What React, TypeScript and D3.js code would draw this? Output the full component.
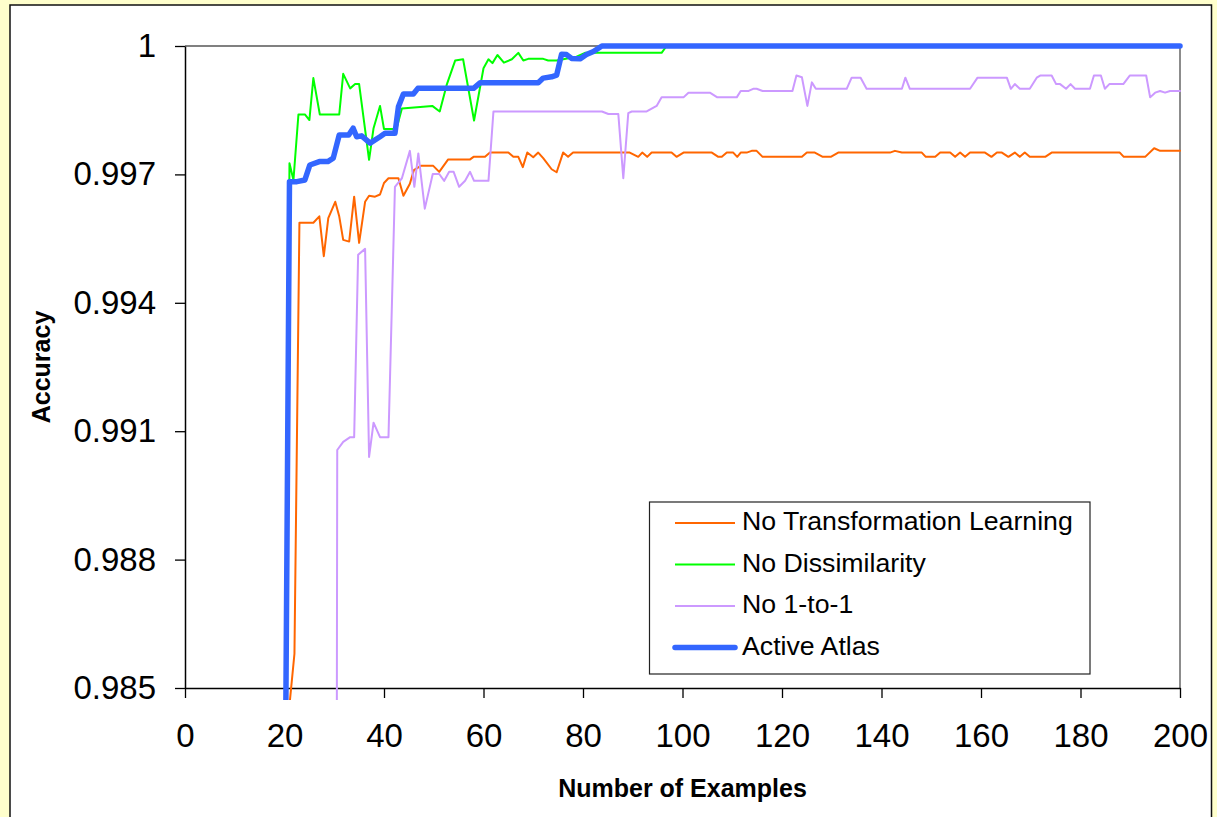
import React, { useEffect, useRef } from 'react';
import * as d3 from 'd3';

type Pt = [number, number];

// [examples, accuracy]
const noTransformation: Pt[] = [
  [20, 0.98], [21, 0.9846], [22, 0.9858], [23, 0.99587], [25.8, 0.99587], [27, 0.99602],
  [27.9, 0.99509], [28.8, 0.99598], [30.2, 0.99636], [31, 0.99602], [31.8, 0.99547],
  [33, 0.99543], [34, 0.99648], [35, 0.9954], [36.2, 0.99636], [37, 0.9965], [38.2, 0.99648],
  [39.2, 0.99653], [40, 0.9968], [40.9, 0.99691], [42.9, 0.99691], [43.9, 0.9965],
  [45.2, 0.99678], [46, 0.9971], [47.4, 0.9972], [49.9, 0.9972], [51.1, 0.99706],
  [52.9, 0.99735], [57.3, 0.99735], [58, 0.99741], [60.3, 0.99741], [61.3, 0.99751],
  [65, 0.99751], [66, 0.99741], [67, 0.99741], [67.9, 0.99717], [68.8, 0.99751], [70, 0.9974],
  [71, 0.99751], [72, 0.99738], [73.7, 0.99712], [74.7, 0.99705], [76, 0.99751], [77, 0.99741],
  [78, 0.99751], [89.4, 0.99751], [91.1, 0.99741], [91.9, 0.99751], [92.9, 0.99741],
  [93.8, 0.99751], [97.8, 0.99751], [98.8, 0.99741], [100.2, 0.99751], [105.9, 0.99751],
  [107.2, 0.99741], [107.9, 0.99741], [108.9, 0.99751], [110.2, 0.99751], [111, 0.99741],
  [111.7, 0.99751], [112.9, 0.99751], [113.9, 0.99755], [114.9, 0.99755], [116.1, 0.99741],
  [124, 0.99741], [125, 0.99751], [126.6, 0.99751], [128.2, 0.99741], [129.8, 0.99741],
  [131.3, 0.99751], [141.7, 0.99751], [142.7, 0.99755], [144.1, 0.99751], [148.1, 0.99751],
  [148.9, 0.99741], [150.8, 0.99741], [151.8, 0.99751], [153.8, 0.99751], [154.8, 0.99741],
  [155.8, 0.99751], [156.8, 0.99741], [157.8, 0.99751], [160.8, 0.99751], [162.1, 0.99741],
  [163.2, 0.99751], [164.2, 0.99751], [165.5, 0.99741], [166.8, 0.99751], [167.8, 0.99741],
  [168.8, 0.99751], [169.8, 0.99741], [172.9, 0.99741], [174.2, 0.99751], [187.9, 0.99751],
  [188.7, 0.99741], [193, 0.99741], [194.8, 0.99761], [196, 0.99755], [200, 0.99755],
];

const noDissimilarity: Pt[] = [
  [20, 0.98], [21, 0.99726], [21.8, 0.99687], [22.8, 0.9984], [24.1, 0.9984], [25, 0.99827],
  [25.8, 0.99925], [27.1, 0.9984], [31, 0.9984], [31.8, 0.99935], [33.2, 0.99901],
  [34.2, 0.99911], [35, 0.99911], [37, 0.99734], [37.9, 0.99808], [39.2, 0.9986], [40, 0.99806],
  [42.5, 0.99806], [43.6, 0.99854], [49.7, 0.9986], [51.2, 0.99847], [52.6, 0.99909],
  [54.3, 0.99966], [55.9, 0.99969], [58.1, 0.99826], [60, 0.99948], [61, 0.99969],
  [61.8, 0.9996], [62.8, 0.99979], [64.1, 0.99961], [65.7, 0.99969], [67, 0.99984],
  [68, 0.99966], [69, 0.9997], [72, 0.9997], [73, 0.99966], [74.7, 0.99966], [78.7, 0.99975],
  [80.4, 0.99984], [95.8, 0.99984], [96.8, 1], [200, 1],
];

const noOneToOne: Pt[] = [
  [30.4, 0.975], [30.6, 0.99056], [31.8, 0.99075], [33.2, 0.99086], [34, 0.99086],
  [34.8, 0.99512], [36.2, 0.99526], [37, 0.9904], [37.9, 0.9912], [39.2, 0.99086],
  [40.9, 0.99086], [42.2, 0.99671], [43.6, 0.99691], [45.2, 0.99755], [46.1, 0.99671],
  [46.9, 0.99749], [48.2, 0.9962], [49.8, 0.99701], [51.1, 0.99701], [52.1, 0.99685],
  [53.1, 0.99706], [54, 0.99706], [55.1, 0.99671], [56.3, 0.99685], [57.3, 0.99706],
  [58.1, 0.99685], [61, 0.99685], [62, 0.99847], [83.8, 0.99847], [85.1, 0.99841],
  [87.1, 0.99841], [88.1, 0.99691], [89.1, 0.99843], [89.8, 0.99847], [92.8, 0.99847],
  [94.8, 0.9986], [95.8, 0.9988], [100.2, 0.9988], [101.2, 0.99891], [105.5, 0.99891],
  [107, 0.9988], [110.9, 0.9988], [111.7, 0.99895], [113.3, 0.99895], [114.2, 0.999],
  [114.9, 0.999], [116.1, 0.99895], [122.1, 0.99895], [122.9, 0.99931], [124, 0.99927],
  [125.1, 0.9986], [126, 0.99915], [126.8, 0.999], [133, 0.999], [134, 0.99926],
  [135.8, 0.99926], [137, 0.999], [144.1, 0.999], [144.8, 0.99926], [145.7, 0.999],
  [157.8, 0.999], [159.3, 0.99926], [165.2, 0.99926], [166, 0.999], [166.8, 0.99911],
  [167.8, 0.999], [169.8, 0.999], [171.2, 0.99926], [171.9, 0.99931], [174.2, 0.99931],
  [175.1, 0.99911], [175.9, 0.99911], [177.1, 0.999], [178, 0.99911], [178.9, 0.999],
  [181.9, 0.999], [182.7, 0.99931], [184.1, 0.99931], [184.9, 0.999], [185.8, 0.99911],
  [188.6, 0.99911], [189.9, 0.99931], [193.2, 0.99931], [194, 0.9988], [195, 0.99891],
  [196, 0.99895], [197, 0.99891], [198, 0.99895], [200, 0.99895],
];

const activeAtlas: Pt[] = [
  [20, 0.98], [21, 0.99683], [22.5, 0.99683], [24.1, 0.99687], [25.1, 0.99722], [27, 0.9973],
  [28.7, 0.9973], [29.8, 0.99738], [31, 0.99792], [32.9, 0.99792], [33.8, 0.99808],
  [34.5, 0.99788], [35.5, 0.9979], [37.2, 0.99773], [39.2, 0.99788], [40.2, 0.99796],
  [42.2, 0.99796], [42.9, 0.99858], [43.9, 0.99888], [45.9, 0.99888], [46.8, 0.99901],
  [58, 0.99901], [59.3, 0.99914], [71, 0.99914], [72, 0.99925], [73.7, 0.99928],
  [74.7, 0.99932], [75.7, 0.99981], [76.7, 0.9998], [77.7, 0.99971], [79.4, 0.9997],
  [80.7, 0.9998], [82.1, 0.99987], [83.8, 1], [200, 1],
];

const seriesNames = ['No Transformation Learning', 'No Dissimilarity', 'No 1-to-1', 'Active Atlas'];
const seriesColors = ['#FF6600', '#00FF00', '#CC99FF', '#3366FF'];
const seriesWidths = [2, 2, 2, 5.5];
const yTicks = [0.985, 0.988, 0.991, 0.994, 0.997, 1];
const xTicks = [0, 20, 40, 60, 80, 100, 120, 140, 160, 180, 200];

const FONT = "Arial, 'Liberation Sans', sans-serif";

function App() {
  const svgRef = useRef<SVGSVGElement>(null);

  useEffect(() => {
    const width = 1217;
    const height = 817;
    const left = 185, top = 46, right = 1180, bottom = 688;

    const svg = d3.select(svgRef.current);
    svg.selectAll('*').remove();
    svg.attr('width', width).attr('height', height);

    // page frame
    svg.append('rect').attr('width', width).attr('height', height).attr('fill', '#FFFFCC');
    svg.append('rect')
      .attr('x', 10).attr('y', 5).attr('width', 1201.5).attr('height', 830)
      .attr('fill', '#fff').attr('stroke', '#111').attr('stroke-width', 1.5);

    const x = d3.scaleLinear().domain([0, 200]).range([left, right]);
    const y = d3.scaleLinear().domain([0.985, 1]).range([bottom, top]);

    // plot area border (grey top/right)
    svg.append('path')
      .attr('d', `M${left},${top}H${right}V${bottom}`)
      .attr('fill', 'none').attr('stroke', '#808080').attr('stroke-width', 1.8);

    const yAxis = svg.append('g')
      .attr('transform', `translate(${left},0)`)
      .call(d3.axisLeft(y).tickValues(yTicks).tickSize(10).tickSizeOuter(0).tickPadding(19)
        .tickFormat(d3.format('.3~f') as any));
    const xAxis = svg.append('g')
      .attr('transform', `translate(0,${bottom})`)
      .call(d3.axisBottom(x).tickValues(xTicks).tickSize(10).tickSizeOuter(0).tickPadding(26)
        .tickFormat(d3.format('d') as any));

    [yAxis, xAxis].forEach((g) => {
      g.select('.domain').attr('stroke', '#000').attr('stroke-width', 1.5);
      g.selectAll('.tick line').attr('stroke', '#000').attr('stroke-width', 1.3);
      g.selectAll('.tick text')
        .attr('fill', '#000').style('font-family', FONT).style('font-size', '33px');
    });

    // lines
    svg.append('clipPath').attr('id', 'plotClip')
      .append('rect').attr('x', left).attr('y', top - 10)
      .attr('width', right - left + 10).attr('height', bottom - top + 22);

    const line = d3.line<Pt>().x((d) => x(d[0])).y((d) => y(d[1]));
    const allSeries = [noTransformation, noDissimilarity, noOneToOne, activeAtlas];

    svg.append('g').attr('clip-path', 'url(#plotClip)')
      .selectAll('path')
      .data(allSeries)
      .enter().append('path')
      .attr('d', (d) => line(d))
      .attr('fill', 'none')
      .attr('stroke', (d, i) => seriesColors[i])
      .attr('stroke-width', (d, i) => seriesWidths[i])
      .attr('stroke-linejoin', 'round')
      .attr('stroke-linecap', 'round');

    // axis titles
    svg.append('text')
      .attr('transform', `translate(50,${(top + bottom) / 2}) rotate(-90)`)
      .attr('text-anchor', 'middle')
      .style('font-family', FONT).style('font-size', '25px').style('font-weight', 'bold')
      .text('Accuracy');
    svg.append('text')
      .attr('x', (left + right) / 2).attr('y', 797)
      .attr('text-anchor', 'middle')
      .style('font-family', FONT).style('font-size', '25px').style('font-weight', 'bold')
      .text('Number of Examples');

    // legend
    const legendBox = svg.append('g');
    legendBox.append('rect')
      .attr('x', 649.5).attr('y', 502).attr('width', 440.5).attr('height', 172)
      .attr('fill', '#fff').attr('stroke', '#222').attr('stroke-width', 1.2);

    const legend = legendBox.selectAll('.legend')
      .data(seriesNames)
      .enter().append('g')
      .attr('class', 'legend')
      .attr('transform', (d, i) => `translate(0, ${523 + i * 41.5})`);

    legend.append('line')
      .attr('x1', 675).attr('x2', 735).attr('y1', 0).attr('y2', 0)
      .attr('stroke', (d, i) => seriesColors[i])
      .attr('stroke-width', (d, i) => seriesWidths[i])
      .attr('stroke-linecap', (d, i) => (i === 3 ? 'round' : 'butt'));

    legend.append('text')
      .attr('x', 742).attr('y', 7)
      .style('font-family', FONT).style('font-size', '26.7px')
      .text((d) => d);
  }, []);

  return (
    <svg ref={svgRef} style={{ position: 'absolute', left: 0, top: 0, display: 'block' }}></svg>
  );
}

export default App;
